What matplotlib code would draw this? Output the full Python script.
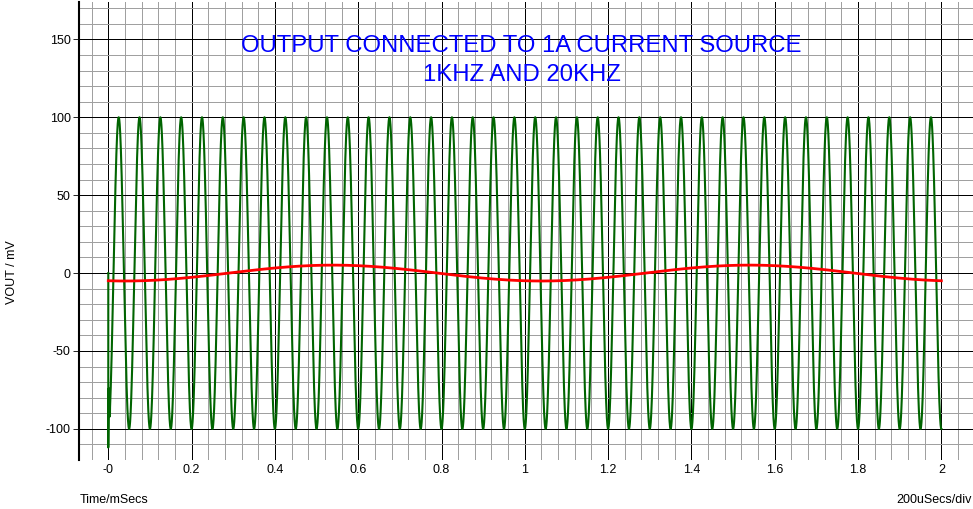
import numpy as np
import matplotlib
matplotlib.use("Agg")
import matplotlib.pyplot as plt
from matplotlib.ticker import MultipleLocator

plt.rcParams['font.family'] = ['Liberation Sans', 'DejaVu Sans']
plt.rcParams['axes.unicode_minus'] = False

# waveform parameters (title gives the frequencies)
freq_hf_khz = 20.0      # green trace
amp_hf_mv = 100.0
freq_lf_khz = 1.0       # red trace
amp_lf_mv = 5.1
lf_delay_ms = 0.04
t_end_ms = 2.0

# start-up step of the green trace at t=0
start_t = [0.0, 0.0, 0.0012, 0.0025, 0.004]
start_v = [0.0, -112.0, -74.0, -85.0, -92.0]

xticks = [0, 0.2, 0.4, 0.6, 0.8, 1.0, 1.2, 1.4, 1.6, 1.8, 2.0]
xticklabels = ['-0', '0.2', '0.4', '0.6', '0.8', '1', '1.2', '1.4', '1.6', '1.8', '2']
yticks = [-100, -50, 0, 50, 100, 150]

title_lines = ["OUTPUT CONNECTED TO 1A CURRENT SOURCE", "1KHZ AND 20KHZ"]

t = np.linspace(0.004, t_end_ms, 8000)
v_hf = -amp_hf_mv * np.cos(2 * np.pi * freq_hf_khz * t)
t_hf = np.concatenate([start_t, t])
v_hf = np.concatenate([start_v, v_hf])

t2 = np.linspace(0, t_end_ms, 800)
v_lf = -amp_lf_mv * np.cos(2 * np.pi * freq_lf_khz * (t2 - lf_delay_ms))

fig = plt.figure(figsize=(9.73, 5.09), dpi=100)
ax = fig.add_axes([79 / 973, 1 - 460 / 509, 1 - 79 / 973, 458 / 509])

ax.set_xlim(-0.0703, 2.076)
ax.set_ylim(-120, 174)

ax.xaxis.set_minor_locator(MultipleLocator(0.04))
ax.yaxis.set_minor_locator(MultipleLocator(10))
ax.set_xticks(xticks)
ax.set_xticklabels(xticklabels)
ax.set_yticks(yticks)

ax.grid(which='minor', color='#a0a0a0', lw=0.6, antialiased=False)
ax.grid(which='major', color='black', lw=0.6, antialiased=False)
ax.set_axisbelow(True)

for s in ['top', 'right', 'bottom']:
    ax.spines[s].set_visible(False)
ax.spines['left'].set_linewidth(1.5)

ax.tick_params(axis='x', which='both', length=0, pad=3, labelsize=9)
ax.tick_params(axis='y', which='major', length=4, width=0.6, pad=2, labelsize=9)
ax.tick_params(axis='y', which='minor', length=0)

ax.plot(t_hf, v_hf, color='#006400', lw=1.5)
ax.plot(t2, v_lf, color='#ff0000', lw=2.0)

# y label
fig.text(12 / 973, 1 - 272 / 509, 'VOUT / mV', fontsize=9, rotation=90,
         ha='center', va='center')

ax.text(0.495, 0.904, title_lines[0], transform=ax.transAxes, color='#0000ff',
        fontsize=17.2, ha='center', va='center')
ax.text(0.495, 0.841, title_lines[1], transform=ax.transAxes, color='#0000ff',
        fontsize=17.2, ha='center', va='center')

fig.text(80 / 973, 1 - 500 / 509, 'Time/mSecs', fontsize=9, ha='left', va='center')
fig.text(972 / 973, 1 - 500 / 509, '200uSecs/div', fontsize=9, ha='right', va='center')

fig.savefig('out.png', dpi=100)
